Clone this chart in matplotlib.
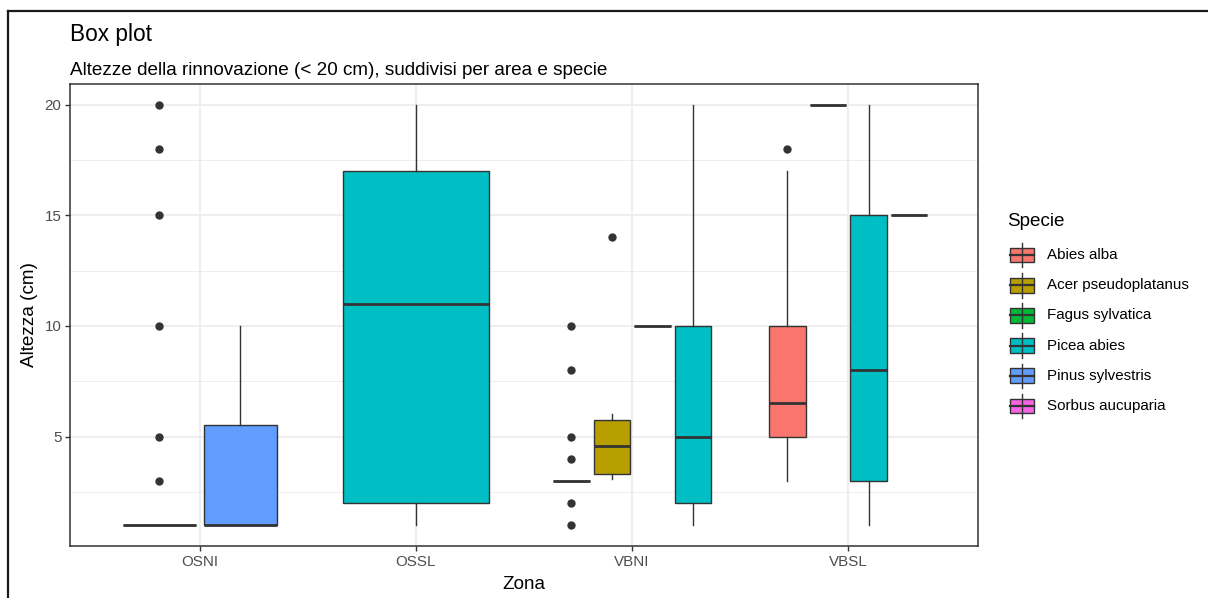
import matplotlib.pyplot as plt
from matplotlib.patches import Rectangle
from matplotlib.lines import Line2D

plt.rcParams['font.family'] = ['Liberation Sans', 'DejaVu Sans']

# zone and species levels
zones = ['OSNI', 'OSSL', 'VBNI', 'VBSL']
species = ['Abies alba', 'Acer pseudoplatanus', 'Fagus sylvatica',
           'Picea abies', 'Pinus sylvestris', 'Sorbus aucuparia']
species_colors = ['#F8766D', '#B79F00', '#00BA38', '#00BFC4', '#619CFF', '#F564E3']

# one entry per box (zone x species), summary stats in cm
box_zone = ['OSNI', 'OSNI', 'OSSL', 'VBNI', 'VBNI', 'VBNI', 'VBNI',
            'VBSL', 'VBSL', 'VBSL', 'VBSL']
box_species = ['Picea abies', 'Pinus sylvestris', 'Picea abies',
               'Abies alba', 'Acer pseudoplatanus', 'Fagus sylvatica', 'Picea abies',
               'Abies alba', 'Fagus sylvatica', 'Picea abies', 'Sorbus aucuparia']
whislo = [1, 1, 1, 3, 3.1, 10, 1, 3, 20, 1, 15]
q1 = [1, 1, 2, 3, 3.3, 10, 2, 5, 20, 3, 15]
med = [1, 1, 11, 3, 4.55, 10, 5, 6.5, 20, 8, 15]
q3 = [1, 5.5, 17, 3, 5.75, 10, 10, 10, 20, 15, 15]
whishi = [1, 10, 20, 3, 6, 10, 20, 17, 20, 20, 15]
fliers = [[3, 5, 10, 15, 18, 20], [], [], [1, 2, 4, 5, 8, 10], [14], [], [],
          [18], [], [], []]

W, H = 1208, 598
GREY20 = '#333333'
GREY30 = '#4D4D4D'

fig = plt.figure(figsize=(W / 100, H / 100), dpi=100)
ax = fig.add_axes([70 / W, 1 - 546 / H, 908 / W, (546 - 83.7) / H])

# dodge boxes inside each zone
dodge_w = 0.75
positions, widths = [], []
for i, z in enumerate(box_zone):
    members = [j for j, zz in enumerate(box_zone) if zz == z]
    n = len(members)
    k = members.index(i)
    slot = dodge_w / n
    positions.append(zones.index(z) + 1 - dodge_w / 2 + slot * (k + 0.5))
    widths.append(slot * 0.9)

stats = []
for i in range(len(box_zone)):
    stats.append(dict(whislo=whislo[i], q1=q1[i], med=med[i], q3=q3[i],
                      whishi=whishi[i], fliers=fliers[i]))

bp = ax.bxp(stats, positions=positions, widths=widths, patch_artist=True,
            showcaps=False, manage_ticks=False,
            boxprops=dict(edgecolor=GREY20, linewidth=1.0),
            whiskerprops=dict(color=GREY20, linewidth=1.0),
            medianprops=dict(color=GREY20, linewidth=2.0, solid_capstyle='butt'),
            flierprops=dict(marker='o', markerfacecolor=GREY20,
                            markeredgecolor=GREY20, markersize=5))
for patch, sp in zip(bp['boxes'], box_species):
    patch.set_facecolor(species_colors[species.index(sp)])

ax.set_xlim(0.4, 4.6)
ax.set_ylim(0.05, 20.95)
ax.set_xticks(range(1, len(zones) + 1))
ax.set_xticklabels(zones)
ax.set_yticks([5, 10, 15, 20])
ax.set_yticks([2.5, 7.5, 12.5, 17.5], minor=True)
ax.set_xticks([], minor=True)
ax.grid(which='major', color='#EBEBEB', linewidth=1.2)
ax.grid(which='minor', axis='y', color='#EBEBEB', linewidth=0.6)
ax.set_axisbelow(True)
for s in ax.spines.values():
    s.set_color(GREY20)
    s.set_linewidth(1.1)
ax.tick_params(which='major', length=3.4, width=1.0, color=GREY20,
               labelsize=10.9, labelcolor=GREY30, pad=2.8)
ax.tick_params(which='minor', length=0)

ax.set_xlabel('Zona', fontsize=13.6, labelpad=5)
ax.set_ylabel('Altezza (cm)', fontsize=13.6, labelpad=5)

fig.text(70 / W, 1 - 41 / H, 'Box plot', fontsize=16.3, va='baseline')
fig.text(70 / W, 1 - 75 / H, 'Altezze della rinnovazione (< 20 cm), suddivisi per area e specie',
         fontsize=13.6, va='baseline')

# overlay in pixel units for the legend and the outer frame
ov = fig.add_axes([0, 0, 1, 1], facecolor='none')
ov.set_xlim(0, W)
ov.set_ylim(H, 0)
ov.axis('off')

ov.add_line(Line2D([8, 8], [11, H], color='#1a1a1a', linewidth=1.6))
ov.add_line(Line2D([8, W], [11, 11], color='#1a1a1a', linewidth=1.6))

ov.text(1007, 222, 'Specie', fontsize=13.6, va='center', ha='left')
for k, (name, col) in enumerate(zip(species, species_colors)):
    yc = 255 + k * 30.2
    ov.add_line(Line2D([1021.5, 1021.5], [yc - 12.3, yc + 12.3], color=GREY20, linewidth=1.0))
    ov.add_patch(Rectangle((1009.5, yc - 7.4), 24, 14.8, facecolor=col,
                           edgecolor=GREY20, linewidth=1.0))
    ov.add_line(Line2D([1009.5, 1033.5], [yc, yc], color=GREY20, linewidth=1.6))
    ov.text(1047, yc, name, fontsize=10.9, va='center', ha='left')

fig.savefig('out.png', dpi=100)
